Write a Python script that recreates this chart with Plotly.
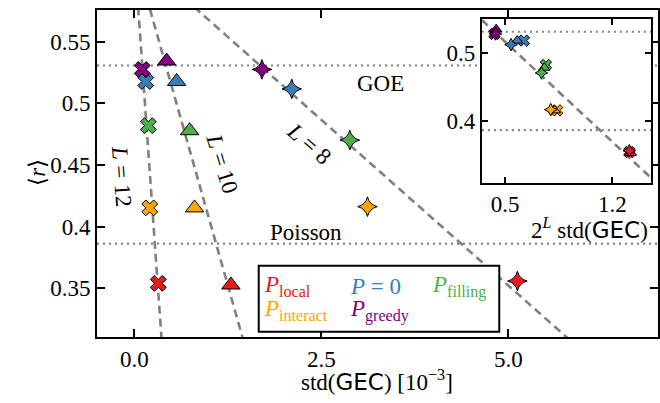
import plotly.graph_objects as go

# ---------------- data ----------------
system_sizes = [12, 10, 8]
protocols = ["local", "interact", "zero", "greedy", "filling"]
protocol_colors = {
    "local": "#e41a1c",
    "interact": "#ffa500",
    "zero": "#377eb8",
    "greedy": "#800080",
    "filling": "#4daf4a",
}
# std(GEC) in units of 1e-3
std_gec_L12 = [0.32, 0.205, 0.152, 0.105, 0.187]
std_gec_L10 = [1.29, 0.804, 0.565, 0.431, 0.738]
std_gec_L8 = [5.12, 3.116, 2.104, 1.705, 2.88]
# mean level spacing ratio <r>
r_mean_L12 = [0.354, 0.4152, 0.5177, 0.5275, 0.4819]
r_mean_L10 = [0.3527, 0.4152, 0.5177, 0.5343, 0.4778]
r_mean_L8 = [0.3559, 0.4162, 0.5117, 0.5275, 0.4702]

r_goe = 0.5307
r_poisson = 0.3863
fit_intercept = 0.621
fit_slope = -0.21  # per unit of 2^L std(GEC)

x_ticks_main = [0.0, 2.5, 5.0]
y_ticks_main = [0.35, 0.4, 0.45, 0.5, 0.55]
x_ticks_inset = [0.5, 1.2]
y_ticks_inset = [0.4, 0.5]

std_by_L = {12: std_gec_L12, 10: std_gec_L10, 8: std_gec_L8}
r_by_L = {12: r_mean_L12, 10: r_mean_L10, 8: r_mean_L8}
symbol_by_L = {12: "x", 10: "triangle-up", 8: "star-diamond"}
size_by_L = {12: 14, 10: 16, 8: 14}
inset_size_by_L = {12: 10, 10: 10, 8: 9}

SERIF = "Liberation Serif"
SANS = "DejaVu Sans"
FS = 23
GRAY = "#808080"

x_main_range = [-0.5, 7.0]
y_main_range = [0.3105, 0.5757]
x_inset_range = [0.348, 1.454]
y_inset_range = [0.309, 0.549]

fig = go.Figure()

# reference lines (main)
for val in [r_goe, r_poisson]:
    fig.add_trace(go.Scatter(x=x_main_range, y=[val, val], mode="lines",
                             line=dict(color=GRAY, width=2.2, dash="2px,4px"),
                             xaxis="x", yaxis="y", hoverinfo="skip"))
# fit lines for each L (main)
for L in system_sizes:
    xs = x_main_range
    ys = [fit_intercept + fit_slope * (2 ** L) * 1e-3 * x for x in xs]
    fig.add_trace(go.Scatter(x=xs, y=ys, mode="lines",
                             line=dict(color=GRAY, width=2.6, dash="8px,5px"),
                             xaxis="x", yaxis="y", hoverinfo="skip"))

# markers (main)
for L in system_sizes:
    for i, p in enumerate(protocols):
        fig.add_trace(go.Scatter(
            x=[std_by_L[L][i]], y=[r_by_L[L][i]], mode="markers",
            marker=dict(symbol=symbol_by_L[L], size=size_by_L[L],
                        color=protocol_colors[p],
                        line=dict(color="black", width=1)),
            xaxis="x", yaxis="y"))

# inset reference lines
for val in [r_goe, r_poisson]:
    fig.add_trace(go.Scatter(x=x_inset_range, y=[val, val], mode="lines",
                             line=dict(color=GRAY, width=2.2, dash="2px,4px"),
                             xaxis="x2", yaxis="y2", hoverinfo="skip"))
fig.add_trace(go.Scatter(x=x_inset_range,
                         y=[fit_intercept + fit_slope * x for x in x_inset_range],
                         mode="lines",
                         line=dict(color=GRAY, width=2.6, dash="8px,5px"),
                         xaxis="x2", yaxis="y2", hoverinfo="skip"))
for L in system_sizes:
    for i, p in enumerate(protocols):
        fig.add_trace(go.Scatter(
            x=[(2 ** L) * 1e-3 * std_by_L[L][i]], y=[r_by_L[L][i]], mode="markers",
            marker=dict(symbol=symbol_by_L[L], size=inset_size_by_L[L],
                        color=protocol_colors[p],
                        line=dict(color="black", width=1)),
            xaxis="x2", yaxis="y2"))

axis_common = dict(showgrid=False, zeroline=False, showline=True, linecolor="black",
                   linewidth=2, mirror="ticks", ticks="inside", tickcolor="black",
                   tickwidth=2, tickfont=dict(family=SERIF, size=FS, color="black"))

fig.update_layout(
    width=660, height=403,
    margin=dict(l=97, r=0, t=10, b=66),
    paper_bgcolor="white", plot_bgcolor="white",
    showlegend=False,
    xaxis=dict(range=x_main_range, tickvals=x_ticks_main,
               ticktext=[f"{v:.1f}" for v in x_ticks_main], ticklen=8,
               domain=[0, 1], anchor="y", **axis_common),
    yaxis=dict(range=y_main_range, tickvals=y_ticks_main,
               ticktext=[f"{v:g}" for v in y_ticks_main], ticklen=8,
               domain=[0, 1], anchor="x", **axis_common),
    xaxis2=dict(range=x_inset_range, tickvals=x_ticks_inset,
                ticktext=[f"{v:g}" for v in x_ticks_inset], ticklen=6,
                domain=[0.686, 0.988], anchor="y2", **axis_common),
    yaxis2=dict(range=y_inset_range, tickvals=y_ticks_inset,
                ticktext=[f"{v:g}" for v in y_ticks_inset], ticklen=6,
                domain=[0.472, 0.9716], anchor="x2", **axis_common),
)

def px_to_paper(px, py):
    return (px - 97) / 563, (337 - py) / 327

annotations = []
# axis titles
xt, yt = px_to_paper(378, 397)
annotations.append(dict(x=xt, y=yt, xref="paper", yref="paper", showarrow=False,
                        text=f"std(<span style='font-family:{SANS}'>GEC</span>) [10<sup>−3</sup>]",
                        font=dict(family=SERIF, size=FS, color="black")))
xt, yt = px_to_paper(22, 172)
annotations.append(dict(x=xt, y=yt, xref="paper", yref="paper", showarrow=False,
                        text="⟨<i>r</i>⟩", textangle=-90,
                        font=dict(family=SERIF, size=FS, color="black")))
xt, yt = px_to_paper(652, 228)
annotations.append(dict(x=xt, y=yt, xref="paper", yref="paper", showarrow=False,
                        xanchor="right", yanchor="middle",
                        text=f"2<sup><i>L</i></sup> std(<span style='font-family:{SANS}'>GEC</span>)",
                        font=dict(family=SERIF, size=FS, color="black")))
# GOE / Poisson labels
annotations.append(dict(x=3.29, y=0.516, xref="x", yref="y", showarrow=False, text="GOE",
                        font=dict(family=SERIF, size=FS, color="black")))
annotations.append(dict(x=2.29, y=0.395, xref="x", yref="y", showarrow=False, text="Poisson",
                        font=dict(family=SERIF, size=FS, color="black")))
# L labels
for (lx, ly, ang, txt) in [(-0.177, 0.4412, 86, "<i>L</i> = 12"),
                           (1.168, 0.451, 73, "<i>L</i> = 10"),
                           (2.33, 0.4672, 41, "<i>L</i> = 8")]:
    annotations.append(dict(x=lx, y=ly, xref="x", yref="y", showarrow=False, text=txt,
                            textangle=ang, font=dict(family=SERIF, size=FS, color="black")))

# legend (text-only)
legend_items = [("local", "<i>P</i><sub>local</sub>", 263, 286),
                ("interact", "<i>P</i><sub>interact</sub>", 263, 310),
                ("zero", "<i>P</i> = 0", 349, 286),
                ("greedy", "<i>P</i><sub>greedy</sub>", 349, 310),
                ("filling", "<i>P</i><sub>filling</sub>", 431, 286)]
for key, txt, px, py in legend_items:
    xt, yt = px_to_paper(px, py)
    annotations.append(dict(x=xt, y=yt, xref="paper", yref="paper", showarrow=False,
                            xanchor="left", yanchor="middle", text=txt,
                            font=dict(family=SERIF, size=FS, color=protocol_colors[key])))
fig.update_layout(annotations=annotations)

x0, y0 = px_to_paper(259.3, 331.7)
x1, y1 = px_to_paper(500.7, 265.7)
fig.add_shape(type="rect", xref="paper", yref="paper", x0=x0, y0=y0, x1=x1, y1=y1,
              line=dict(color="black", width=2), fillcolor="white", layer="above")

fig.write_html("out.html")
